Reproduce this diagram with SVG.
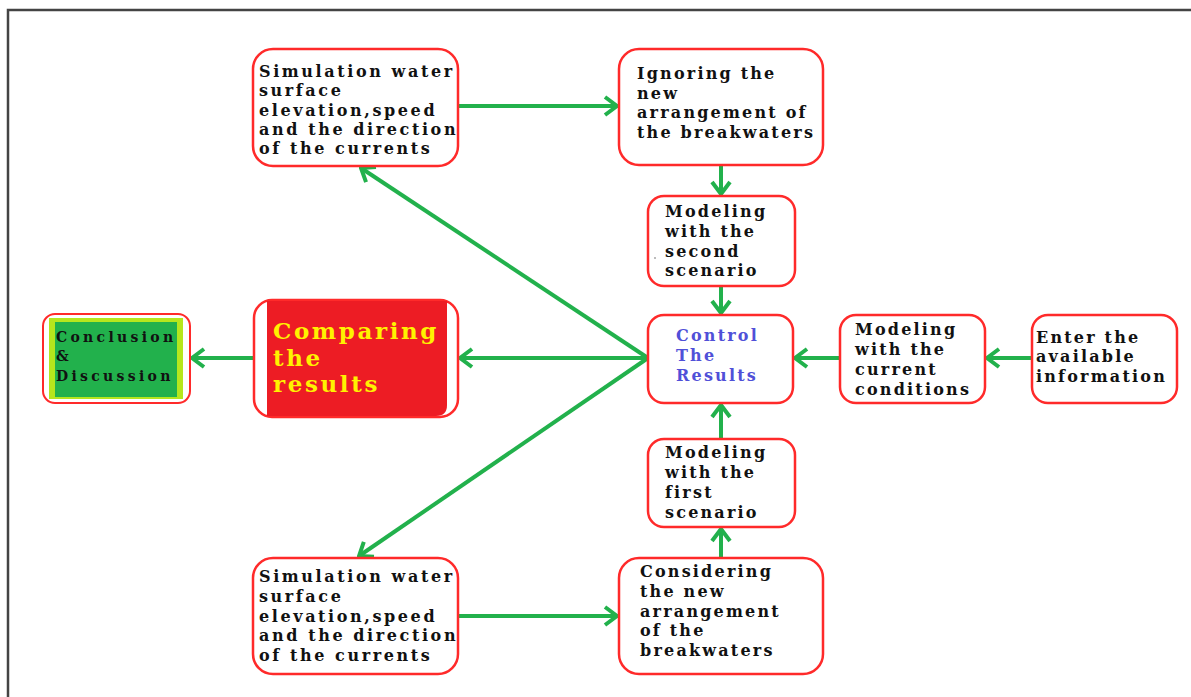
<svg xmlns="http://www.w3.org/2000/svg" width="1191" height="697" viewBox="0 0 1191 697">
<defs>
<style>
.box{fill:#fff;stroke:#ff2a2a;stroke-width:2.5}
.t{font-family:"DejaVu Serif","Liberation Serif",serif;font-weight:bold;font-size:16px;letter-spacing:2.2px;fill:#111}
.blue{fill:#5050d8}
.big{font-family:"DejaVu Serif","Liberation Serif",serif;font-weight:bold;font-size:23px;letter-spacing:2.6px;fill:#fff200}
.c{stroke:#22b14c;stroke-width:4;fill:none}
</style>
<marker id="ah" markerUnits="userSpaceOnUse" viewBox="0 0 16 22" refX="14" refY="11" markerWidth="16" markerHeight="22" orient="auto">
<path d="M2,2 L14,11 L2,20" fill="none" stroke="#22b14c" stroke-width="4" stroke-linejoin="miter"/>
</marker>
</defs>
<rect width="1191" height="697" fill="#fff"/>
<path d="M8,697 V10 H1191" fill="none" stroke="#444" stroke-width="2.5"/>

<g id="connectors">
<line class="c" x1="458" y1="106" x2="617" y2="106" marker-end="url(#ah)"/>
<line class="c" x1="721" y1="166" x2="721" y2="194" marker-end="url(#ah)"/>
<line class="c" x1="721" y1="286" x2="721" y2="313" marker-end="url(#ah)"/>
<line class="c" x1="721" y1="439" x2="721" y2="405" marker-end="url(#ah)"/>
<line class="c" x1="721" y1="558" x2="721" y2="529" marker-end="url(#ah)"/>
<line class="c" x1="840" y1="358" x2="795" y2="358" marker-end="url(#ah)"/>
<line class="c" x1="1032" y1="358" x2="987" y2="358" marker-end="url(#ah)"/>
<line class="c" x1="648" y1="358" x2="361" y2="168" marker-end="url(#ah)"/>
<line class="c" x1="648" y1="358" x2="460" y2="358" marker-end="url(#ah)"/>
<line class="c" x1="648" y1="358" x2="359" y2="556" marker-end="url(#ah)"/>
<line class="c" x1="458" y1="616" x2="617" y2="616" marker-end="url(#ah)"/>
<line class="c" x1="253" y1="358" x2="192" y2="358" marker-end="url(#ah)"/>
</g>

<g id="simTop">
<rect class="box" x="253" y="49" width="205" height="117" rx="20"/>
<text class="t" style="letter-spacing:2.6px"><tspan x="259" y="77">Simulation water</tspan><tspan x="259" y="96">surface</tspan><tspan x="259" y="116">elevation,speed</tspan><tspan x="259" y="135">and the direction</tspan><tspan x="259" y="154">of the currents</tspan></text>
</g>

<g id="ignoring">
<rect class="box" x="619" y="49" width="204" height="116" rx="20"/>
<text class="t"><tspan x="637" y="79">Ignoring the</tspan><tspan x="637" y="99">new</tspan><tspan x="637" y="118">arrangement of</tspan><tspan x="637" y="138">the breakwaters</tspan></text>
</g>

<g id="second">
<rect class="box" x="648" y="196" width="147" height="90" rx="16"/>
<text class="t"><tspan x="665" y="217">Modeling</tspan><tspan x="665" y="237">with the</tspan><tspan x="665" y="257">second</tspan><tspan x="665" y="276">scenario</tspan></text>
<circle cx="655" cy="258" r="0.8" fill="#666"/>
</g>

<g id="control">
<rect class="box" x="648" y="315" width="145" height="88" rx="16"/>
<text class="t blue"><tspan x="676" y="341">Control</tspan><tspan x="676" y="361">The</tspan><tspan x="676" y="381">Results</tspan></text>
</g>

<g id="current">
<rect class="box" x="840" y="315" width="145" height="88" rx="16"/>
<text class="t"><tspan x="855" y="335">Modeling</tspan><tspan x="855" y="355">with the</tspan><tspan x="855" y="375">current</tspan><tspan x="855" y="395">conditions</tspan></text>
</g>

<g id="enter">
<rect class="box" x="1032" y="315" width="145" height="88" rx="16"/>
<text class="t"><tspan x="1036" y="343">Enter the</tspan><tspan x="1036" y="362">available</tspan><tspan x="1036" y="382">information</tspan></text>
</g>

<g id="first">
<rect class="box" x="648" y="439" width="147" height="88" rx="16"/>
<text class="t"><tspan x="665" y="458">Modeling</tspan><tspan x="665" y="478">with the</tspan><tspan x="665" y="498">first</tspan><tspan x="665" y="518">scenario</tspan></text>
</g>

<g id="considering">
<rect class="box" x="619" y="558" width="204" height="116" rx="20"/>
<text class="t"><tspan x="640" y="577">Considering</tspan><tspan x="640" y="597">the new</tspan><tspan x="640" y="617">arrangement</tspan><tspan x="640" y="636">of the</tspan><tspan x="640" y="656">breakwaters</tspan></text>
</g>

<g id="simBottom">
<rect class="box" x="253" y="558" width="205" height="116" rx="20"/>
<text class="t" style="letter-spacing:2.6px"><tspan x="259" y="582">Simulation water</tspan><tspan x="259" y="602">surface</tspan><tspan x="259" y="622">elevation,speed</tspan><tspan x="259" y="641">and the direction</tspan><tspan x="259" y="661">of the currents</tspan></text>
</g>

<g id="comparing">
<rect class="box" x="254" y="300" width="204" height="117" rx="18"/>
<path d="M267,301 H447 V405 Q447,416 436,416 H267 Z" fill="#ed1c24"/>
<text class="big"><tspan x="273" y="339">Comparing</tspan><tspan x="273" y="366">the</tspan><tspan x="273" y="392">results</tspan></text>
</g>

<g id="conclusion">
<rect x="43" y="314" width="147" height="89" rx="12" fill="#fff" stroke="#ff2a2a" stroke-width="2"/>
<rect x="49" y="318" width="134" height="81" fill="#b5e61d"/>
<rect x="55" y="322" width="122" height="75" fill="#22b14c"/>
<text class="t" style="font-size:14px;letter-spacing:3.3px"><tspan x="56" y="342">Conclusion</tspan><tspan x="56" y="361">&amp;</tspan><tspan x="56" y="381">Discussion</tspan></text>
</g>
</svg>
